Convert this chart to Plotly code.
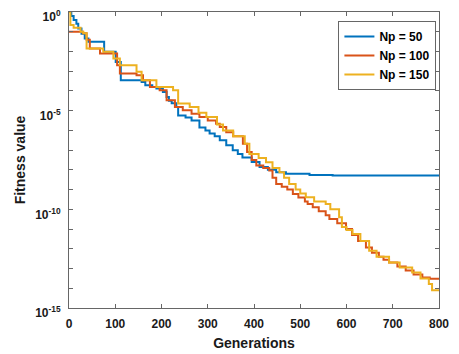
import plotly.graph_objects as go

# Generations and log10(fitness)
gen_50 = [0, 5, 10, 16, 20, 27, 34, 42, 76, 101, 112, 157, 165, 180, 189, 203, 211, 216, 222, 232, 236, 252, 265, 282, 295, 304, 315, 326, 340, 354, 365, 375, 395, 412, 430, 448, 469, 520, 570, 800]
exp_50 = [0, -0.2, -0.4, -0.6, -0.83, -1.1, -1.34, -1.51, -2.02, -2.53, -3.46, -3.55, -3.71, -3.8, -3.88, -4.05, -4.31, -4.5, -4.63, -4.81, -5.24, -5.35, -5.5, -5.85, -6.0, -6.16, -6.3, -6.5, -6.75, -7.0, -7.2, -7.37, -7.6, -7.86, -8.0, -8.12, -8.2, -8.26, -8.29, -8.3]

gen_100 = [0, 30, 38, 45, 67, 104, 110, 146, 160, 175, 196, 211, 229, 246, 265, 282, 300, 318, 326, 340, 355, 376, 385, 395, 405, 420, 433, 440, 448, 460, 472, 484, 496, 510, 516, 527, 540, 555, 563, 580, 599, 612, 625, 642, 655, 670, 680, 692, 710, 728, 745, 764, 780, 800]
exp_100 = [-1.0, -1.08, -1.4, -1.85, -2.1, -2.7, -3.12, -3.2, -3.46, -3.8, -3.97, -4.47, -4.81, -4.98, -5.15, -5.32, -5.5, -5.66, -5.83, -6.1, -6.3, -6.68, -7.1, -7.5, -7.78, -7.9, -8.03, -8.4, -8.71, -8.85, -9.0, -9.22, -9.4, -9.6, -9.73, -9.9, -10.1, -10.3, -10.49, -10.7, -11.0, -11.3, -11.6, -11.93, -12.2, -12.4, -12.55, -12.7, -12.9, -13.1, -13.3, -13.46, -13.52, -13.54]

gen_150 = [0, 3, 10, 25, 31, 38, 74, 96, 110, 146, 157, 189, 225, 236, 261, 280, 297, 320, 333, 355, 380, 390, 410, 426, 440, 455, 465, 476, 490, 500, 512, 530, 555, 565, 584, 590, 600, 613, 630, 649, 665, 692, 715, 742, 760, 778, 785, 800]
exp_150 = [0, -0.66, -0.8, -1.0, -1.08, -1.85, -2.02, -2.36, -2.7, -3.03, -3.46, -3.8, -3.97, -4.64, -4.81, -5.1, -5.32, -5.7, -6.0, -6.3, -6.68, -7.19, -7.4, -7.61, -7.9, -8.12, -8.4, -8.71, -9.0, -9.2, -9.39, -9.6, -9.73, -10.0, -10.4, -10.9, -11.05, -11.25, -11.6, -12.1, -12.4, -12.7, -12.95, -13.2, -13.5, -13.79, -14.1, -14.1]

series_names = ["Np = 50", "Np = 100", "Np = 150"]
colors = ["#0072BD", "#D95319", "#EDB120"]

x_ticks = [0, 100, 200, 300, 400, 500, 600, 700, 800]
y_major = [0, -5, -10, -15]
y_labels = ["10<sup>0</sup>", "10<sup>-5</sup>", "10<sup>-10</sup>", "10<sup>-15</sup>"]
y_decades = list(range(0, -16, -1))

FONT = "Liberation Sans, Arial, Helvetica, sans-serif"
AX = "#666666"

fig = go.Figure()
for name, g, e, c in zip(series_names, [gen_50, gen_100, gen_150], [exp_50, exp_100, exp_150], colors):
    fig.add_trace(go.Scatter(
        x=g, y=[10 ** v for v in e], mode="lines", name=name,
        line=dict(color=c, width=2, shape="hv"),
    ))

fig.update_layout(
    width=459, height=354,
    margin=dict(l=69, r=20, t=12, b=46),
    paper_bgcolor="white", plot_bgcolor="white",
    font=dict(family=FONT, size=12, color="#1a1a1a", weight="bold"),
    showlegend=True,
    legend=dict(
        x=0.993, y=0.97, xanchor="right", yanchor="top",
        bgcolor="white", bordercolor=AX, borderwidth=1,
        font=dict(family=FONT, size=12, color="#000000", weight="bold"),
        tracegroupgap=0, itemwidth=30,
    ),
)
fig.update_xaxes(
    range=[0, 800], tickvals=x_ticks, ticks="inside", ticklen=4, tickcolor=AX,
    ticklabelstandoff=5,
    showline=True, linecolor=AX, linewidth=1, mirror="ticks",
    showgrid=False, zeroline=False, automargin=False,
    tickfont=dict(family=FONT, size=12, weight="bold"),
    title=dict(text="Generations", font=dict(family=FONT, size=14, weight="bold"), standoff=7),
)
fig.update_yaxes(
    type="log", range=[-15, 0],
    tickvals=[10 ** d for d in y_major], ticktext=y_labels,
    ticks="inside", ticklen=4, tickcolor=AX, ticklabelstandoff=5, ticklabelshift=5,
    minor=dict(tickvals=[10 ** d for d in y_decades], ticks="inside", ticklen=4, tickcolor=AX, showgrid=False),
    showline=True, linecolor=AX, linewidth=1, mirror="ticks",
    showgrid=False, zeroline=False, automargin=False,
    tickfont=dict(family=FONT, size=12, weight="bold"),
    title=dict(text="Fitness value", font=dict(family=FONT, size=14, weight="bold"), standoff=6),
)

fig.write_html(
    "out.html",
    config={"displayModeBar": False},
    post_script="document.body.style.margin='0';document.body.style.overflow='hidden';",
)
